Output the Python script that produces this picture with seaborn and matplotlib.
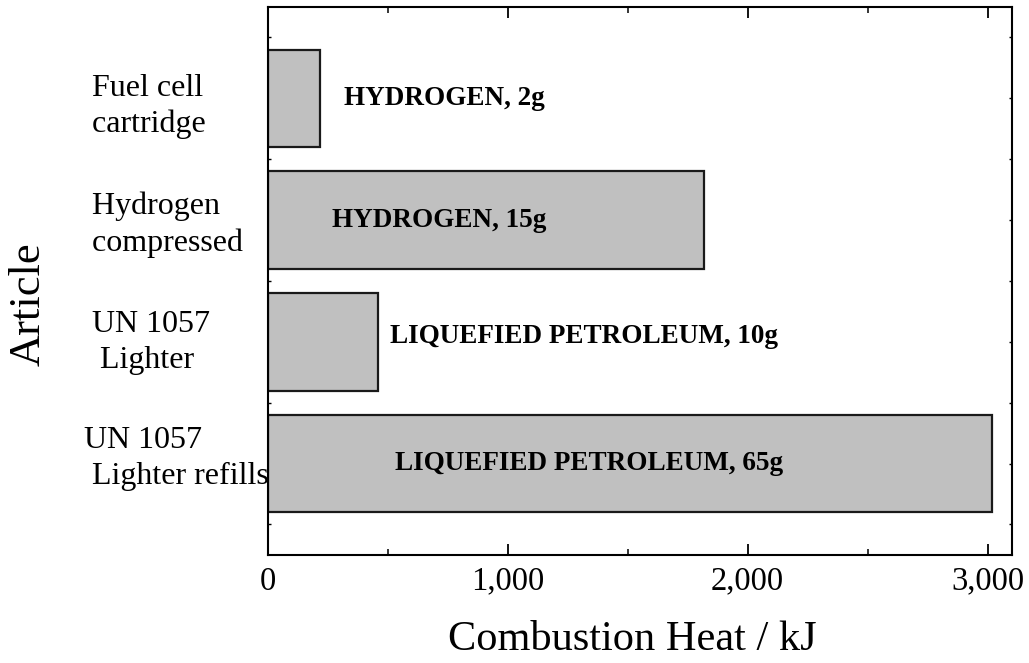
import matplotlib
matplotlib.use("Agg")
import matplotlib.pyplot as plt
from matplotlib.ticker import MultipleLocator, FuncFormatter
from matplotlib.transforms import ScaledTranslation
import seaborn as sns
import pandas as pd

# ---- data ----
categories = ["Fuel cell\ncartridge", "Hydrogen\ncompressed", "UN 1057\nLighter", "UN 1057\nLighter refills"]
heat_kj = [220, 1820, 460, 3020]
bar_labels = ["HYDROGEN, 2g", "HYDROGEN, 15g", "LIQUEFIED PETROLEUM, 10g", "LIQUEFIED PETROLEUM, 65g"]
tick_labels = [" Fuel cell\n cartridge", " Hydrogen\n compressed", " UN 1057\n  Lighter", "UN 1057\n Lighter refills"]
x_ticks = [0, 1000, 2000, 3000]

# ---- layout (label anchor positions / offsets) ----
label_x = [319, 269, 510, 531]
label_y_shift = [0.0, 0.0, -0.04, 0.0]
ticklabel_shift_pt = [-6.0, -3.5, -0.5, 4.0]   # vertical nudges of category labels

sns.set_style("ticks")
plt.rcParams["font.family"] = ["Liberation Serif", "DejaVu Serif"]
plt.rcParams["text.color"] = "black"
plt.rcParams["axes.labelcolor"] = "black"
plt.rcParams["xtick.color"] = "black"
plt.rcParams["ytick.color"] = "black"
plt.rcParams["axes.edgecolor"] = "black"

df = pd.DataFrame({"Article": categories, "Heat": heat_kj})

fig = plt.figure(figsize=(10.29, 6.63), dpi=100)
ax = fig.add_axes([0.26, 0.163, 0.7235, 0.8265])

sns.barplot(data=df, x="Heat", y="Article", orient="h", color="#c0c0c0",
            saturation=1, edgecolor="#1a1a1a", linewidth=1.6, width=0.8, ax=ax)

ax.set_xlim(0, 3102)
ax.set_ylim(3.75, -0.75)

for sp in ax.spines.values():
    sp.set_visible(True)
    sp.set_linewidth(1.5)
    sp.set_color("black")

# x ticks
ax.set_xticks(x_ticks)
ax.xaxis.set_major_formatter(FuncFormatter(lambda v, p: f"{int(v):,}"))
ax.xaxis.set_minor_locator(MultipleLocator(500))
ax.tick_params(axis="x", which="major", direction="in", length=8, width=1.3,
               top=True, bottom=True, labelsize=23.5, pad=8, colors="black")
ax.tick_params(axis="x", which="minor", direction="in", length=4, width=1.1,
               top=True, bottom=True, colors="black")

# y ticks
ax.set_yticks(range(len(categories)))
ax.set_yticklabels(tick_labels)
ax.set_yticks([-0.5, 0.5, 1.5, 2.5, 3.5], minor=True)
ax.tick_params(axis="y", which="both", direction="in", length=2, width=1,
               left=True, right=True, colors="black")
ax.tick_params(axis="y", which="major", labelsize=23, pad=132.5)
for t, s in zip(ax.get_yticklabels(), ticklabel_shift_pt):
    t.set_horizontalalignment("left")
    t.set_verticalalignment("center")
    t.set_multialignment("left")
    t.set_linespacing(1.32)
    t.set_color("black")
    t.set_transform(t.get_transform() + ScaledTranslation(0, s / 72, fig.dpi_scale_trans))

# axis labels
ax.set_xlabel("Combustion Heat / kJ", fontsize=30.5, va="baseline", color="black")
ax.xaxis.set_label_coords(0.49, -0.173)
ax.set_ylabel("Article", fontsize=32, va="center", color="black")
ax.yaxis.set_label_coords(-0.321, 0.458)

# bar annotations
for i, (txt, lx, dy) in enumerate(zip(bar_labels, label_x, label_y_shift)):
    ax.text(lx, i + dy, txt, ha="left", va="center", fontsize=19.5,
            fontweight="bold", color="black")

fig.savefig("out.png", dpi=100)
